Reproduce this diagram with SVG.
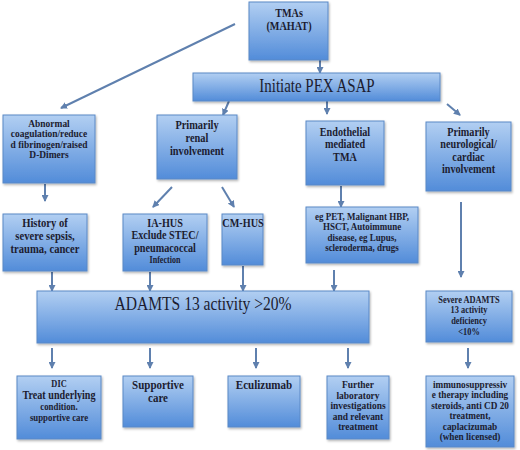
<svg xmlns="http://www.w3.org/2000/svg" width="520" height="450" viewBox="0 0 520 450">
<defs>
<linearGradient id="g" x1="0" y1="0" x2="0" y2="1">
<stop offset="0" stop-color="#b2cff2"/>
<stop offset="1" stop-color="#528cd9"/>
</linearGradient>
<filter id="sh" x="-10%" y="-10%" width="125%" height="130%">
<feDropShadow dx="1" dy="1.5" stdDeviation="1" flood-color="#000" flood-opacity="0.3"/>
</filter>
<marker id="ah" markerWidth="7" markerHeight="7" refX="6" refY="3.5" orient="auto" markerUnits="userSpaceOnUse">
<path d="M0,0 L7,3.5 L0,7 Z" fill="#5f80ae"/>
</marker>
</defs>
<style>
.box{fill:url(#g);stroke:#5a89c6;stroke-width:1;filter:url(#sh)}
.t{font-family:"Liberation Serif","Times New Roman",serif;font-weight:bold;fill:#1c1c30;text-anchor:middle}
.r{font-family:"Liberation Serif","Times New Roman",serif;font-weight:normal;fill:#1c1c30;text-anchor:middle}
.c{fill:none;stroke:#5f80ae;stroke-width:2;marker-end:url(#ah)}
</style>
<rect width="520" height="450" fill="#fff"/>

<g id="connectors">
<line class="c" x1="235" y1="24" x2="61" y2="108"/>
<line class="c" x1="320" y1="60" x2="320" y2="73"/>
<line class="c" x1="229" y1="101" x2="223" y2="115"/>
<line class="c" x1="327" y1="101" x2="327" y2="114"/>
<line class="c" x1="447" y1="104" x2="460" y2="115"/>
<line class="c" x1="45" y1="184" x2="45" y2="201"/>
<line class="c" x1="172" y1="187" x2="153" y2="207"/>
<line class="c" x1="222" y1="187" x2="234" y2="207"/>
<line class="c" x1="341" y1="186" x2="341" y2="207"/>
<line class="c" x1="461" y1="202" x2="461" y2="277"/>
<line class="c" x1="52" y1="272" x2="52" y2="291"/>
<line class="c" x1="150" y1="272" x2="150" y2="291"/>
<line class="c" x1="243" y1="266" x2="243" y2="291"/>
<line class="c" x1="334" y1="270" x2="334" y2="291"/>
<line class="c" x1="52" y1="348" x2="52" y2="368"/>
<line class="c" x1="150" y1="348" x2="150" y2="368"/>
<line class="c" x1="256" y1="348" x2="256" y2="368"/>
<line class="c" x1="348" y1="348" x2="348" y2="368"/>
<line class="c" x1="468" y1="348" x2="468" y2="368"/>
</g>

<g id="tmas">
<rect class="box" x="249" y="2" width="79" height="58"/>
<text class="t" font-size="12" transform="translate(289 0) scale(0.85 1)"><tspan x="0" y="17">TMAs</tspan><tspan x="0" y="30">(MAHAT)</tspan></text>
</g>

<g id="pex">
<rect class="box" x="193" y="73" width="247" height="28"/>
<text class="r" font-size="18" transform="translate(317 0) scale(0.83 1)"><tspan x="0" y="92">Initiate PEX ASAP</tspan></text>
</g>

<g id="abnormal">
<rect class="box" x="3" y="115" width="92" height="68"/>
<text class="t" font-size="11" transform="translate(49 0) scale(0.86 1)"><tspan x="0" y="127">Abnormal</tspan><tspan x="0" y="137.5">coagulation/reduce</tspan><tspan x="0" y="148">d fibrinogen/raised</tspan><tspan x="0" y="158.5">D-Dimers</tspan></text>
</g>

<g id="renal">
<rect class="box" x="157" y="115" width="80" height="64"/>
<text class="t" font-size="12.5" transform="translate(197 0) scale(0.83 1)"><tspan x="0" y="129">Primarily</tspan><tspan x="0" y="142">renal</tspan><tspan x="0" y="155">involvement</tspan></text>
</g>

<g id="endothelial">
<rect class="box" x="306" y="121" width="78" height="64"/>
<text class="t" font-size="12" transform="translate(345 0) scale(0.85 1)"><tspan x="0" y="136">Endothelial</tspan><tspan x="0" y="148.5">mediated</tspan><tspan x="0" y="161">TMA</tspan></text>
</g>

<g id="neuro">
<rect class="box" x="426" y="122" width="85" height="69"/>
<text class="t" font-size="12" transform="translate(468.5 0) scale(0.85 1)"><tspan x="0" y="136">Primarily</tspan><tspan x="0" y="148.5">neurological/</tspan><tspan x="0" y="161">cardiac</tspan><tspan x="0" y="173.5">involvement</tspan></text>
</g>

<g id="history">
<rect class="box" x="3" y="214" width="84" height="57"/>
<text class="t" font-size="12.5" transform="translate(45 0) scale(0.85 1)"><tspan x="0" y="227">History of</tspan><tspan x="0" y="240">severe sepsis,</tspan><tspan x="0" y="253">trauma, cancer</tspan></text>
</g>

<g id="iahus">
<rect class="box" x="123" y="214" width="84" height="57"/>
<text class="t" font-size="12" transform="translate(165 0) scale(0.85 1)"><tspan x="0" y="227">IA-HUS</tspan><tspan x="0" y="239.5">Exclude STEC/</tspan><tspan x="0" y="252">pneumacoccal</tspan><tspan x="0" y="263" font-size="9.5">Infection</tspan></text>
</g>

<g id="cmhus">
<rect class="box" x="222" y="214" width="41" height="51"/>
<text class="t" font-size="12" transform="translate(243 0) scale(0.85 1)"><tspan x="0" y="227">CM-HUS</tspan></text>
</g>

<g id="egpet">
<rect class="box" x="306" y="207" width="112" height="56"/>
<text class="t" font-size="10" transform="translate(362 0) scale(0.9 1)"><tspan x="0" y="220">eg PET, Malignant HBP,</tspan><tspan x="0" y="230.5">HSCT, Autoimmune</tspan><tspan x="0" y="241">disease, eg Lupus,</tspan><tspan x="0" y="251.5">scleroderma, drugs</tspan></text>
</g>

<g id="adamts">
<rect class="box" x="37" y="291" width="332" height="52"/>
<text class="r" font-size="19" transform="translate(203 0) scale(0.82 1)"><tspan x="0" y="310">ADAMTS 13 activity &gt;20%</tspan></text>
</g>

<g id="severe">
<rect class="box" x="426" y="291" width="86" height="51"/>
<text class="t" font-size="9.5" transform="translate(469 0) scale(0.88 1)"><tspan x="0" y="303">Severe ADAMTS</tspan><tspan x="0" y="313.5">13 activity</tspan><tspan x="0" y="324">deficiency</tspan><tspan x="0" y="335">&lt;10%</tspan></text>
</g>

<g id="dic">
<rect class="box" x="17" y="376" width="84" height="63"/>
<text class="t" font-size="10" transform="translate(59 0) scale(0.88 1)"><tspan x="0" y="387" font-size="9.5">DIC</tspan><tspan x="0" y="399" font-size="11.5">Treat underlying</tspan><tspan x="0" y="410">condition.</tspan><tspan x="0" y="421">supportive care</tspan></text>
</g>

<g id="supportive">
<rect class="box" x="123" y="376" width="70" height="51"/>
<text class="t" font-size="12.5" transform="translate(158 0) scale(0.88 1)"><tspan x="0" y="389">Supportive</tspan><tspan x="0" y="402">care</tspan></text>
</g>

<g id="eculizumab">
<rect class="box" x="228" y="376" width="72" height="51"/>
<text class="t" font-size="13" transform="translate(264 0) scale(0.85 1)"><tspan x="0" y="389">Eculizumab</tspan></text>
</g>

<g id="further">
<rect class="box" x="327" y="376" width="62" height="63"/>
<text class="t" font-size="11" transform="translate(358 0) scale(0.86 1)"><tspan x="0" y="388">Further</tspan><tspan x="0" y="399">laboratory</tspan><tspan x="0" y="409.5">investigations</tspan><tspan x="0" y="420">and relevant</tspan><tspan x="0" y="430.5">treatment</tspan></text>
</g>

<g id="immuno">
<rect class="box" x="426" y="376" width="88" height="71"/>
<text class="t" font-size="10.5" transform="translate(470 0) scale(0.88 1)"><tspan x="0" y="388">immunosuppressiv</tspan><tspan x="0" y="398.5">e therapy including</tspan><tspan x="0" y="409">steroids, anti CD 20</tspan><tspan x="0" y="419.5">treatment,</tspan><tspan x="0" y="430">caplacizumab</tspan><tspan x="0" y="440.5">(when licensed)</tspan></text>
</g>
</svg>
